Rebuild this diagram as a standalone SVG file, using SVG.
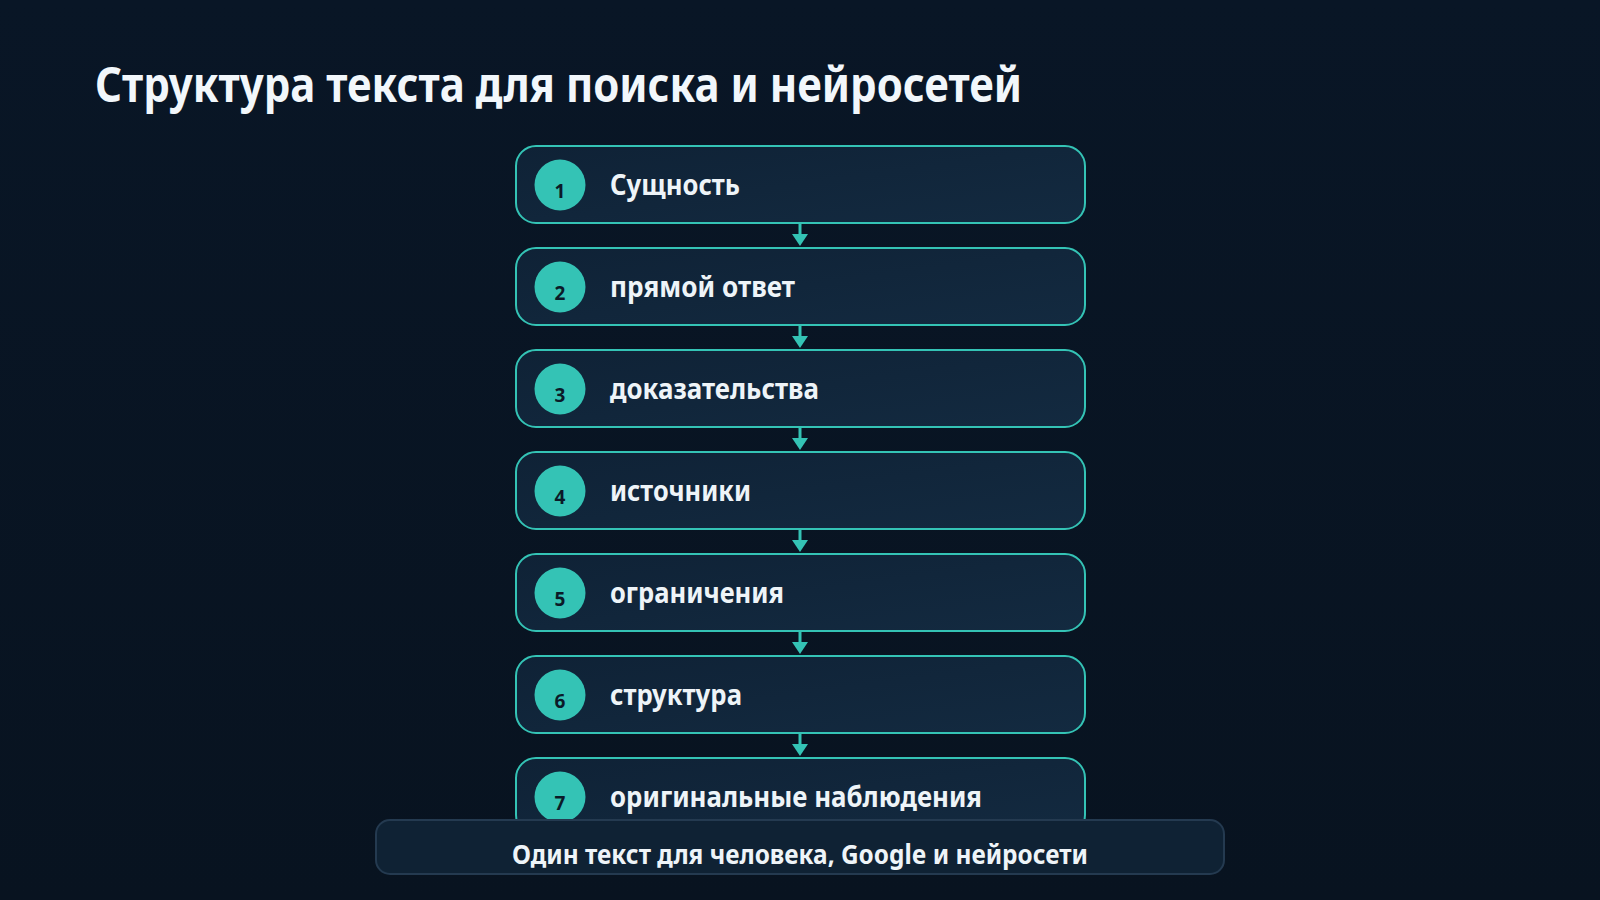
<svg xmlns="http://www.w3.org/2000/svg" width="1600" height="900" viewBox="0 0 1600 900">
<defs>
<linearGradient id="bg" x1="0" y1="0" x2="0" y2="1">
<stop offset="0" stop-color="#091626"/>
<stop offset="1" stop-color="#081320"/>
</linearGradient>
<linearGradient id="card" x1="0" y1="0" x2="1" y2="1">
<stop offset="0" stop-color="#0f2236"/>
<stop offset="1" stop-color="#132a40"/>
</linearGradient>
</defs>
<style>
.card{fill:url(#card);stroke:#34c3b5;stroke-width:2}
.num{fill:#34c3b5}
.numt{font-family:"Noto Sans","Liberation Sans",sans-serif;font-weight:700;font-size:19px;fill:#0b1a28;text-anchor:middle}
.lbl{font-family:"Noto Sans","Liberation Sans",sans-serif;font-weight:700;font-size:28px;fill:#eef4f8}
.conn{stroke:#34c3b5;stroke-width:3;fill:none}
.head{fill:#34c3b5}
.title{font-family:"Noto Sans","Liberation Sans",sans-serif;font-weight:700;font-size:49px;fill:#f2f7fb}
.foot{fill:#0f2234;stroke:#243a50;stroke-width:2}
.foott{font-family:"Noto Sans","Liberation Sans",sans-serif;font-weight:700;font-size:27px;fill:#eef4f8;text-anchor:middle}
</style>
<rect width="1600" height="900" fill="url(#bg)"/>
<text class="title" x="95" y="102" textLength="927" lengthAdjust="spacingAndGlyphs">Структура текста для поиска и нейросетей</text>
<g id="connectors">
<line class="conn" x1="800" y1="223" x2="800" y2="234"/><path class="head" d="M792,234 L808,234 L800,246 Z"/>
<line class="conn" x1="800" y1="325" x2="800" y2="336"/><path class="head" d="M792,336 L808,336 L800,348 Z"/>
<line class="conn" x1="800" y1="427" x2="800" y2="438"/><path class="head" d="M792,438 L808,438 L800,450 Z"/>
<line class="conn" x1="800" y1="529" x2="800" y2="540"/><path class="head" d="M792,540 L808,540 L800,552 Z"/>
<line class="conn" x1="800" y1="631" x2="800" y2="642"/><path class="head" d="M792,642 L808,642 L800,654 Z"/>
<line class="conn" x1="800" y1="733" x2="800" y2="744"/><path class="head" d="M792,744 L808,744 L800,756 Z"/>
</g>
<g id="n1"><rect class="card" x="516" y="146" width="569" height="77" rx="20"/><circle class="num" cx="560" cy="185" r="25.5"/><text class="numt" x="560" y="198">1</text><text class="lbl" x="610" y="195" textLength="130" lengthAdjust="spacingAndGlyphs">Сущность</text></g>
<g id="n2"><rect class="card" x="516" y="248" width="569" height="77" rx="20"/><circle class="num" cx="560" cy="287" r="25.5"/><text class="numt" x="560" y="300">2</text><text class="lbl" x="610" y="297" textLength="185" lengthAdjust="spacingAndGlyphs">прямой ответ</text></g>
<g id="n3"><rect class="card" x="516" y="350" width="569" height="77" rx="20"/><circle class="num" cx="560" cy="389" r="25.5"/><text class="numt" x="560" y="402">3</text><text class="lbl" x="610" y="399" textLength="209" lengthAdjust="spacingAndGlyphs">доказательства</text></g>
<g id="n4"><rect class="card" x="516" y="452" width="569" height="77" rx="20"/><circle class="num" cx="560" cy="491" r="25.5"/><text class="numt" x="560" y="504">4</text><text class="lbl" x="610" y="501" textLength="141" lengthAdjust="spacingAndGlyphs">источники</text></g>
<g id="n5"><rect class="card" x="516" y="554" width="569" height="77" rx="20"/><circle class="num" cx="560" cy="593" r="25.5"/><text class="numt" x="560" y="606">5</text><text class="lbl" x="610" y="603" textLength="174" lengthAdjust="spacingAndGlyphs">ограничения</text></g>
<g id="n6"><rect class="card" x="516" y="656" width="569" height="77" rx="20"/><circle class="num" cx="560" cy="695" r="25.5"/><text class="numt" x="560" y="708">6</text><text class="lbl" x="610" y="705" textLength="132" lengthAdjust="spacingAndGlyphs">структура</text></g>
<g id="n7"><rect class="card" x="516" y="758" width="569" height="77" rx="20"/><circle class="num" cx="560" cy="797" r="25.5"/><text class="numt" x="560" y="810">7</text><text class="lbl" x="610" y="807" textLength="372" lengthAdjust="spacingAndGlyphs">оригинальные наблюдения</text></g>
<g id="footer"><rect class="foot" x="376" y="820" width="848" height="54" rx="14"/><text class="foott" x="800" y="864" textLength="576" lengthAdjust="spacingAndGlyphs">Один текст для человека, Google и нейросети</text></g>
</svg>
